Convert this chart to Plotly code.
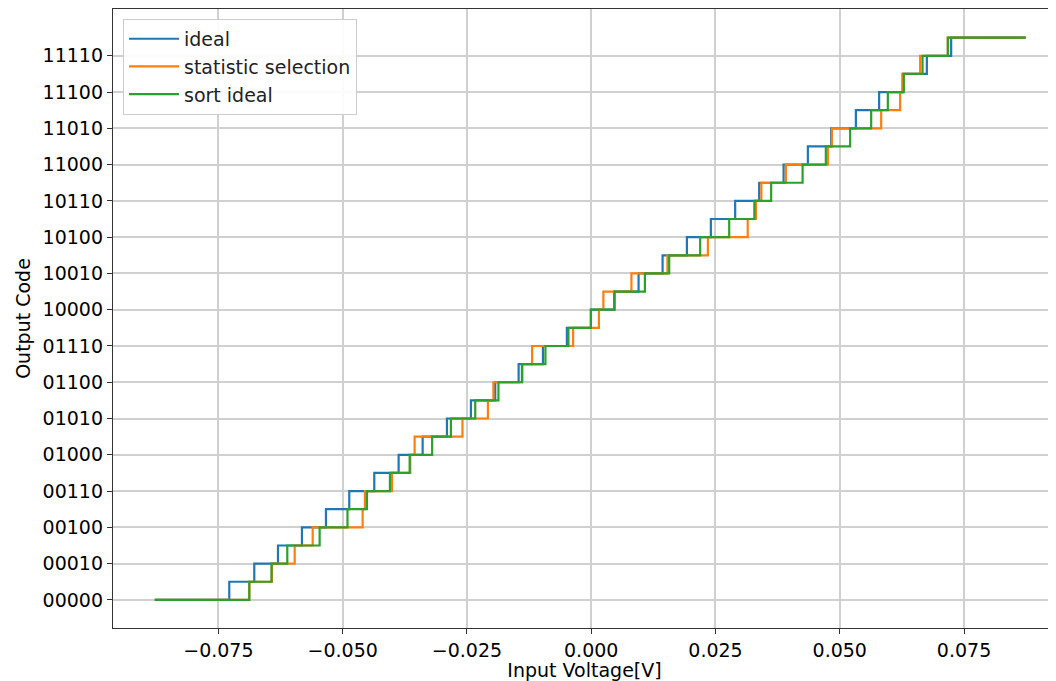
import plotly.graph_objects as go

# Input range of the sweep [V]
v_start = -0.0878
v_end = 0.0874

# Transition voltages (code k -> k+1)
ideal = [-0.07281, -0.06778, -0.06301, -0.05819, -0.05336, -0.04867, -0.04364, -0.03874,
         -0.03391, -0.02902, -0.02420, -0.01931, -0.01460, -0.00971, -0.00489, -0.00006,
         0.00463, 0.00953, 0.01436, 0.01925, 0.02407, 0.02896, 0.03379, 0.03870,
         0.04358, 0.04827, 0.05324, 0.05792, 0.06269, 0.06752, 0.07241]

statistic_selection = [-0.06878, -0.06422, -0.05965, -0.05603, -0.04598, -0.04552, -0.04008, -0.03640,
                       -0.03552, -0.02590, -0.02078, -0.01967, -0.01384, -0.01189, -0.00364, 0.00155,
                       0.00245, 0.00809, 0.01533, 0.02347, 0.03148, 0.03313, 0.03423, 0.03916,
                       0.04761, 0.04841, 0.05833, 0.06214, 0.06259, 0.06617, 0.07174]

sort_ideal = [-0.06878, -0.06432, -0.06114, -0.05463, -0.04903, -0.04511, -0.04049, -0.03652,
              -0.03200, -0.02822, -0.02333, -0.01866, -0.01394, -0.00921, -0.00459, -0.00006,
              0.00471, 0.01080, 0.01569, 0.02192, 0.02776, 0.03282, 0.03620, 0.04252,
              0.04720, 0.05209, 0.05632, 0.05967, 0.06289, 0.06665, 0.07174]

series_names = ["ideal", "statistic selection", "sort ideal"]
series_colors = ["#1f77b4", "#ff7f0e", "#2ca02c"]

x_tick_vals = [-0.075, -0.050, -0.025, 0.000, 0.025, 0.050, 0.075]
x_tick_text = ["\u22120.075", "\u22120.050", "\u22120.025", "0.000", "0.025", "0.050", "0.075"]
y_tick_vals = list(range(0, 31, 2))
y_tick_text = [format(k, "05b") for k in y_tick_vals]

codes = list(range(0, 32))

fig = go.Figure()
for name, trans, color in zip(series_names, [ideal, statistic_selection, sort_ideal], series_colors):
    xs = [v_start] + trans + [v_end]
    ys = codes + [codes[-1]]
    fig.add_trace(go.Scatter(x=xs, y=ys, mode="lines", name=name,
                             line=dict(color=color, width=2.2, shape="hv")))

font_family = "DejaVu Sans"
# The page body adds an 8px offset; size the figure to fill the rest of the window
fig.update_layout(
    width=1048, height=673,
    margin=dict(l=105, r=0, t=1, b=53, autoexpand=False),
    paper_bgcolor="white", plot_bgcolor="white",
    font=dict(family=font_family, size=19, color="black"),
    showlegend=True,
    legend=dict(x=0.0106, y=0.984, xanchor="left", yanchor="top",
                bgcolor="rgba(255,255,255,0.9)", bordercolor="#cccccc", borderwidth=1,
                font=dict(family=font_family, size=19, color="#222"),
                tracegroupgap=0, itemwidth=50),
    xaxis=dict(range=[-0.0962, 0.0935], tickvals=x_tick_vals, ticktext=x_tick_text,
               showgrid=True, gridcolor="#d0d0d0", gridwidth=1.5,
               zeroline=False, showline=True, linecolor="#333", linewidth=1.3, mirror=True,
               ticks="outside", ticklen=5, tickcolor="#333",
               title=dict(text="Input Voltage[V]", standoff=2,
                          font=dict(family=font_family, size=19))),
    yaxis=dict(range=[-1.55, 32.58], tickvals=y_tick_vals, ticktext=y_tick_text,
               showgrid=True, gridcolor="#d0d0d0", gridwidth=1.5,
               zeroline=False, showline=True, linecolor="#333", linewidth=1.3,
               ticks="outside", ticklen=5, tickcolor="#333",
               title=dict(text="Output Code", standoff=6,
                          font=dict(family=font_family, size=19))),
)

fig.write_html("out.html")
